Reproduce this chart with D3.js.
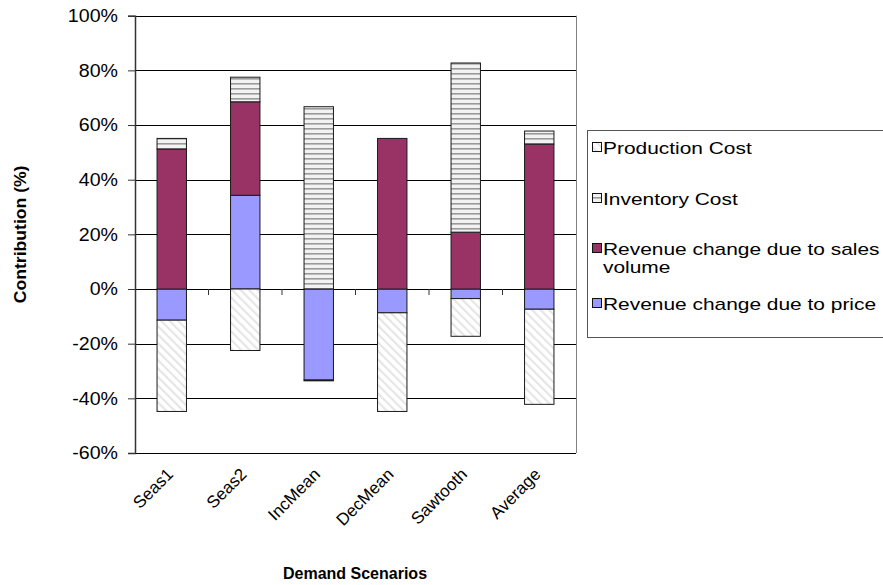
<!DOCTYPE html>
<html>
<head>
<meta charset="utf-8">
<script src="https://cdn.jsdelivr.net/npm/d3@7"></script>
<style>
  html, body { margin: 0; padding: 0; background: #fff; }
  svg { display: block; font-family: "Liberation Sans", Arial, sans-serif; }
</style>
</head>
<body>
<svg id="chart" width="883" height="585"></svg>
<script>
// Demand scenarios and the contribution (%) of each component
const categories = ["Seas1", "Seas2", "IncMean", "DecMean", "Sawtooth", "Average"];
const priceRevenue   = [-11.4, 34.3, -33.3, -8.7, -3.5, -7.4];
const volumeRevenue  = [51.2, 34.2, 0, 55.1, 20.8, 53.0];
const inventoryCost  = [3.9, 9.0, 66.7, 0, 61.9, 4.8];
const productionCost = [-33.4, -22.5, -0.3, -36.1, -13.8, -34.8];
const yTicks = [-60, -40, -20, 0, 20, 40, 60, 80, 100];

const seriesKeys = ["price", "volume", "inventory", "production"];
const legendItems = [
  { key: "production", label: ["Production Cost"] },
  { key: "inventory",  label: ["Inventory Cost"] },
  { key: "volume",     label: ["Revenue change due to sales", "volume"] },
  { key: "price",      label: ["Revenue change due to price"] }
];

const rows = categories.map((c, i) => ({
  category: c,
  price: priceRevenue[i],
  volume: volumeRevenue[i],
  inventory: inventoryCost[i],
  production: productionCost[i]
}));

const svg = d3.select("#chart");
const plot = { left: 135, right: 576, top: 15.7, bottom: 453 };

const x = d3.scaleBand()
  .domain(categories)
  .range([plot.left, plot.right])
  .paddingInner(0.6)
  .paddingOuter(0.3);

const y = d3.scaleLinear()
  .domain([-60, 100])
  .range([plot.bottom, plot.top]);

// Fill patterns
const defs = svg.append("defs");
const diag = defs.append("pattern")
  .attr("id", "pat-production")
  .attr("patternUnits", "userSpaceOnUse")
  .attr("width", 6).attr("height", 6)
  .attr("patternTransform", "rotate(-45)");
diag.append("rect").attr("width", 6).attr("height", 6).attr("fill", "#ffffff");
diag.append("rect").attr("width", 2.2).attr("height", 6).attr("fill", "#e6e6e6");

const horiz = defs.append("pattern")
  .attr("id", "pat-inventory")
  .attr("patternUnits", "userSpaceOnUse")
  .attr("width", 8).attr("height", 5);
horiz.append("rect").attr("width", 8).attr("height", 5).attr("fill", "#f2f2f2");
horiz.append("rect").attr("y", 3).attr("width", 8).attr("height", 1.6).attr("fill", "#9a9a9a");

const fills = {
  price: "#9999ff",
  volume: "#993366",
  inventory: "url(#pat-inventory)",
  production: "url(#pat-production)"
};

// Gridlines
svg.append("g")
  .selectAll("line")
  .data(yTicks)
  .join("line")
  .attr("x1", plot.left).attr("x2", plot.right)
  .attr("y1", d => Math.round(y(d)) + 0.5)
  .attr("y2", d => Math.round(y(d)) + 0.5)
  .attr("stroke", "#000")
  .attr("stroke-width", 1);

// Right border of the plot area
svg.append("line")
  .attr("x1", plot.right + 0.5).attr("x2", plot.right + 0.5)
  .attr("y1", y(100)).attr("y2", y(-60))
  .attr("stroke", "#808080");

// Stacked bars
const stack = d3.stack().keys(seriesKeys).offset(d3.stackOffsetDiverging);
const stacked = stack(rows);

svg.append("g")
  .selectAll("g")
  .data(stacked)
  .join("g")
  .attr("fill", d => fills[d.key])
  .selectAll("rect")
  .data(d => d)
  .join("rect")
  .attr("x", d => x(d.data.category))
  .attr("width", x.bandwidth())
  .attr("y", d => y(Math.max(d[0], d[1])))
  .attr("height", d => Math.abs(y(d[0]) - y(d[1])))
  .attr("stroke", "#1a1a1a")
  .attr("stroke-width", 1);

// Y axis (labels are slightly widened, as in the original chart's font rendering)
const tickStretch = 1.09;
const yAxis = d3.axisLeft(y)
  .tickValues(yTicks)
  .tickFormat(d => d + "%")
  .tickSize(7)
  .tickPadding(10);

const yg = svg.append("g")
  .attr("transform", `translate(${plot.left},0)`)
  .call(yAxis);
yg.select(".domain").attr("stroke", "#333").attr("stroke-width", 1.5);
yg.selectAll(".tick line").attr("stroke", "#333");
yg.selectAll(".tick text")
  .attr("fill", "#000")
  .attr("font-size", 18)
  .attr("font-family", "Liberation Sans, Arial, sans-serif")
  .attr("x", -17 / tickStretch)
  .attr("transform", `scale(${tickStretch},1)`);

// Category tick marks on the zero line
const step = x.step();
svg.append("g")
  .selectAll("line")
  .data(d3.range(1, categories.length))
  .join("line")
  .attr("x1", i => plot.left + i * step)
  .attr("x2", i => plot.left + i * step)
  .attr("y1", y(0))
  .attr("y2", y(0) + 6)
  .attr("stroke", "#333");

// Category labels
svg.append("g")
  .selectAll("text")
  .data(categories)
  .join("text")
  .attr("transform", d => `translate(${x(d) + x.bandwidth() / 2 - 6},${plot.bottom + 14}) rotate(-45)`)
  .attr("text-anchor", "end")
  .attr("dy", "0.7em")
  .attr("font-size", 17)
  .text(d => d);

// Axis titles
svg.append("text")
  .attr("x", 355)
  .attr("y", 579)
  .attr("text-anchor", "middle")
  .attr("font-weight", "bold")
  .attr("font-size", 16)
  .text("Demand Scenarios");

svg.append("text")
  .attr("transform", `translate(26,${(plot.top + plot.bottom) / 2}) rotate(-90) scale(1.1,1)`)
  .attr("text-anchor", "middle")
  .attr("font-weight", "bold")
  .attr("font-size", 16)
  .text("Contribution (%)");

// Legend
const legendStretch = 1.23;
const legend = svg.append("g");
legend.append("rect")
  .attr("x", 587.5).attr("y", 130.5)
  .attr("width", 320).attr("height", 207)
  .attr("fill", "#fff")
  .attr("stroke", "#555");

const legendY = [148, 199, 249, 304];
legendItems.forEach((item, i) => {
  const g = legend.append("g").attr("transform", `translate(592,${legendY[i]})`);
  g.append("rect")
    .attr("x", 0.5).attr("y", -5.5)
    .attr("width", 9).attr("height", 9)
    .attr("fill", fills[item.key])
    .attr("stroke", "#111");
  item.label.forEach((line, j) => {
    g.append("text")
      .attr("transform", `translate(11,${j * 18}) scale(${legendStretch},1)`)
      .attr("dy", "0.35em")
      .attr("font-size", 17)
      .text(line);
  });
});
</script>
</body>
</html>
